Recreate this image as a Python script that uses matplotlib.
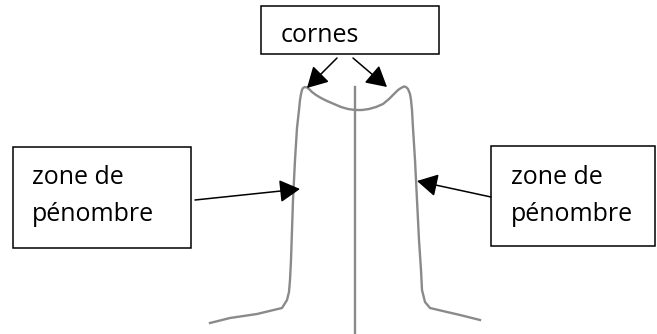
import matplotlib
matplotlib.use("Agg")
import matplotlib.pyplot as plt
from matplotlib.patches import Rectangle

# Beam profile, traced in pixel units of the 657x334 picture (y grows downwards)
profile_x = [210, 230, 257, 282, 287, 289, 290, 291, 292, 293, 295, 297, 299, 300, 301,
             302, 303, 305, 307, 309, 312, 316, 321, 327, 334, 341, 348, 355, 362, 369,
             376, 383, 389, 394, 398, 401, 404, 406, 408, 410, 411, 412, 413, 415, 417,
             419, 421, 422, 425, 430, 447, 460, 480]
profile_y = [323, 318, 314, 308, 300, 292, 280, 260, 230, 200, 160, 128, 110, 100, 94,
             90, 88, 87, 87.5, 89, 92, 95, 98, 101, 104, 107, 109, 110, 110, 109,
             107, 104, 99, 94, 90, 88, 86.5, 87, 89, 94, 100, 110, 128, 160, 200,
             240, 270, 290, 302, 308, 312, 315, 320]

# Central axis
axis_x = [355, 355]
axis_y = [87, 334]

# Labels: (text, box x0, box y0, box x1, box y1, text x, text y)
labels = [
    ("cornes", 261, 6, 439, 54, 281, 35),
    ("zone de\npénombre", 13, 147, 191, 248, 32, 196),
    ("zone de\npénombre", 491, 146, 655, 246, 511, 196),
]

# Arrows: (start x, start y, tip x, tip y)
arrows = [
    (337, 58, 307, 88),
    (353, 58, 387, 87),
    (195, 200, 300, 189),
    (491, 197, 417, 181),
]

fig = plt.figure(figsize=(6.57, 3.34), dpi=100)
ax = fig.add_axes([0, 0, 1, 1])
ax.set_xlim(0, 657)
ax.set_ylim(334, 0)
ax.axis("off")

ax.plot(profile_x, profile_y, color="#8a8a8a", lw=1.7, solid_joinstyle="round")
ax.plot(axis_x, axis_y, color="#8a8a8a", lw=1.7)

for text, x0, y0, x1, y1, tx, ty in labels:
    ax.add_patch(Rectangle((x0, y0), x1 - x0, y1 - y0, fill=True, facecolor="white",
                           edgecolor="black", lw=1.1))
    ax.text(tx, ty, text, ha="left", va="center", fontsize=18, family="Open Sans",
            linespacing=1.65, color="black")

for sx, sy, ex, ey in arrows:
    ax.annotate("", xy=(ex, ey), xytext=(sx, sy),
                arrowprops=dict(arrowstyle="-|>,head_length=0.9,head_width=0.5",
                                mutation_scale=14, color="black", lw=1.1,
                                shrinkA=0, shrinkB=0))

fig.savefig("out.png", dpi=100)
